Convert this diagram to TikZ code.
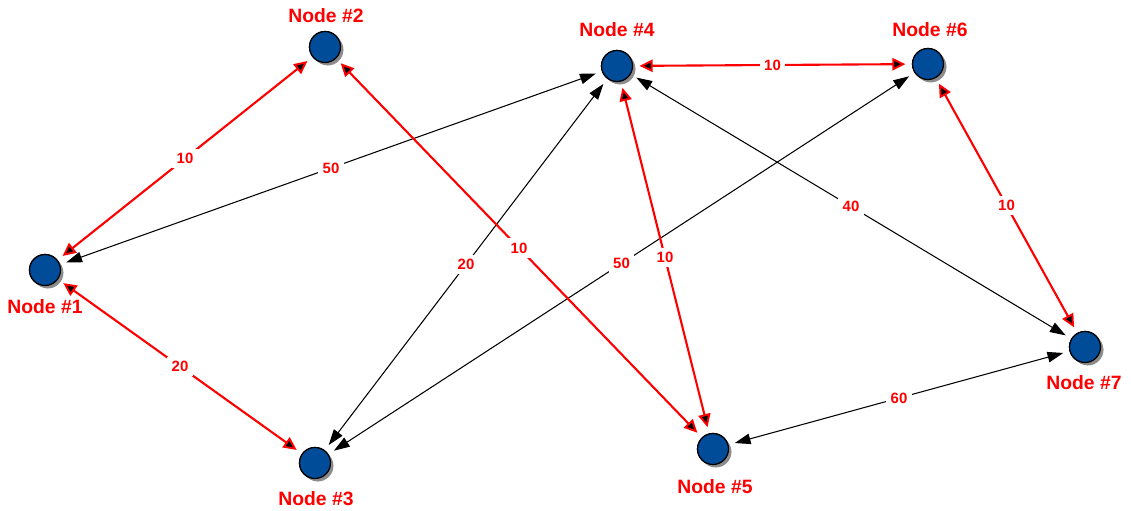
\documentclass[tikz,border=0pt]{standalone}
\usepackage{fontspec}
\setmainfont{Liberation Sans}
\usetikzlibrary{arrows.meta,shadows}

\definecolor{nodeblue}{RGB}{0,76,153}
\definecolor{edgered}{RGB}{255,0,0}

\tikzset{
  vertex/.style={circle,draw=black,line width=0.7pt,fill=nodeblue,minimum size=0.62cm,
    inner sep=0pt,outer sep=4pt,
    drop shadow={shadow xshift=1.6pt,shadow yshift=-1.6pt,fill=black!45,opacity=1}},
  tag/.style={text=edgered,font=\bfseries\fontsize{11}{13}\selectfont},
  num/.style={fill=white,text=edgered,font=\bfseries\fontsize{8.5}{10}\selectfont,inner sep=2.5pt},
  rededge/.style={edgered,line width=1.2pt,
    arrows={Triangle[length=7.5pt,width=7pt,fill=black,line width=1.1pt]-Triangle[length=7.5pt,width=7pt,fill=black,line width=1.1pt]}},
  blkedge/.style={black,line width=0.6pt,
    arrows={Triangle[length=9pt,width=6pt]-Triangle[length=9pt,width=6pt]}},
}

\begin{document}
\begin{tikzpicture}[x=0.02cm,y=-0.02cm]
  \useasboundingbox (0,0) rectangle (1131,510);

  % the seven nodes
  \node[vertex] (n1) at (45,270) {};
  \node[vertex] (n2) at (325,47) {};
  \node[vertex] (n3) at (315,463) {};
  \node[vertex] (n4) at (617,66) {};
  \node[vertex] (n5) at (713,449) {};
  \node[vertex] (n6) at (928,64) {};
  \node[vertex] (n7) at (1085,347) {};

  \node[tag] (t1) at (45,307) {Node \#1};
  \node[tag] (t2) at (326,16) {Node \#2};
  \node[tag] (t3) at (316,499) {Node \#3};
  \node[tag] (t4) at (617,30) {Node \#4};
  \node[tag] (t5) at (715,487) {Node \#5};
  \node[tag] (t6) at (930,30) {Node \#6};
  \node[tag] (t7) at (1084,383) {Node \#7};

  % black links
  \draw[blkedge] (n1) -- node[num] (w14) {50} (n4);
  \draw[blkedge] (n3) -- node[num] (w34) {20} (n4);
  \draw[blkedge] (n3) -- node[num] (w36) {50} (n6);
  \draw[blkedge] (n4) -- node[num] (w47) {40} (n7);
  \draw[blkedge] (n5) -- node[num] (w57) {60} (n7);

  % red links
  \draw[rededge] (n1) -- node[num] (w12) {10} (n2);
  \draw[rededge] (n1) -- node[num] (w13) {20} (n3);
  \draw[rededge] (n2) -- node[num] (w25) {10} (n5);
  \draw[rededge] (n4) -- node[num] (w45) {10} (n5);
  \draw[rededge] (n4) -- node[num] (w46) {10} (n6);
  \draw[rededge] (n6) -- node[num] (w67) {10} (n7);

  % nodes again on top of the links
  \foreach \n in {n1,n2,n3,n4,n5,n6,n7}
    \node[vertex] at (\n) {};
\end{tikzpicture}
\end{document}
